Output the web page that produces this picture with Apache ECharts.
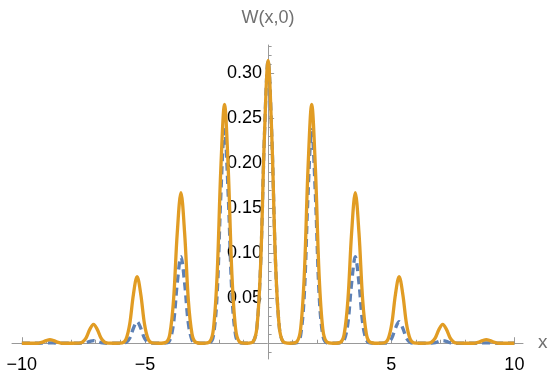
<!DOCTYPE html>
<html lang="en">
<head>
  <meta charset="UTF-8">
  <title>W(x,0)</title>
  <style>
    html, body { margin: 0; padding: 0; background: #fff; }
  </style>
</head>
<body>
<div id="main" style="width:549px; height:372px;"></div>
<script type="text/javascript" src="https://fastly.jsdelivr.net/npm/echarts@6/dist/echarts.min.js"></script>
<script>
  // sample positions along x (denser around each peak)
  var xs = [
    -10, -9.7,
    -9.46, -9.31, -9.16, -9.01, -8.86, -8.71, -8.56, -8.41, -8.26,
    -7.98,
    -7.69, -7.54, -7.39, -7.24, -7.09, -6.94, -6.79, -6.64, -6.49,
    -6.21,
    -5.92, -5.77, -5.62, -5.47, -5.32, -5.17, -5.02, -4.87, -4.72,
    -4.43,
    -4.14, -3.99, -3.84, -3.69, -3.54, -3.39, -3.24, -3.09, -2.94,
    -2.66,
    -2.37, -2.22, -2.07, -1.92, -1.77, -1.62, -1.47, -1.32, -1.17,
    -0.89,
    -0.6, -0.45, -0.3, -0.15, 0, 0.15, 0.3, 0.45, 0.6,
    0.89,
    1.17, 1.32, 1.47, 1.62, 1.77, 1.92, 2.07, 2.22, 2.37,
    2.66,
    2.94, 3.09, 3.24, 3.39, 3.54, 3.69, 3.84, 3.99, 4.14,
    4.43,
    4.72, 4.87, 5.02, 5.17, 5.32, 5.47, 5.62, 5.77, 5.92,
    6.21,
    6.49, 6.64, 6.79, 6.94, 7.09, 7.24, 7.39, 7.54, 7.69,
    7.98,
    8.26, 8.41, 8.56, 8.71, 8.86, 9.01, 9.16, 9.31, 9.46,
    9.7, 10
  ];

  // solid orange curve
  var wSolid = [
    0, 0,
    0, 0.0002, 0.0012, 0.0029, 0.004, 0.0029, 0.0012, 0.0002, 0,
    0,
    0.0001, 0.0013, 0.006, 0.0154, 0.021, 0.0154, 0.006, 0.0013, 0.0001,
    0,
    0.0005, 0.0045, 0.0213, 0.0542, 0.074, 0.0542, 0.0213, 0.0045, 0.0005,
    0,
    0.0011, 0.0101, 0.048, 0.1222, 0.167, 0.1222, 0.048, 0.0101, 0.0011,
    0,
    0.0018, 0.016, 0.0762, 0.194, 0.265, 0.194, 0.0762, 0.016, 0.0018,
    0,
    0.0021, 0.019, 0.0903, 0.2298, 0.314, 0.2298, 0.0903, 0.019, 0.0021,
    0,
    0.0018, 0.016, 0.0762, 0.194, 0.265, 0.194, 0.0762, 0.016, 0.0018,
    0,
    0.0011, 0.0101, 0.048, 0.1222, 0.167, 0.1222, 0.048, 0.0101, 0.0011,
    0,
    0.0005, 0.0045, 0.0213, 0.0542, 0.074, 0.0542, 0.0213, 0.0045, 0.0005,
    0,
    0.0001, 0.0013, 0.006, 0.0154, 0.021, 0.0154, 0.006, 0.0013, 0.0001,
    0,
    0, 0.0002, 0.0012, 0.0029, 0.004, 0.0029, 0.0012, 0.0002, 0,
    0, 0
  ];

  // dashed blue curve (its central peak lies under the orange one)
  var wDashed = [
    0, 0,
    0, 0, 0.0001, 0.0003, 0.0005, 0.0003, 0.0001, 0, 0,
    0,
    0, 0.0001, 0.0007, 0.0021, 0.003, 0.0021, 0.0007, 0.0001, 0,
    0,
    0.0001, 0.0009, 0.0055, 0.0166, 0.024, 0.0166, 0.0055, 0.0009, 0.0001,
    0,
    0.0003, 0.0035, 0.0221, 0.0665, 0.096, 0.0665, 0.0221, 0.0035, 0.0003,
    0,
    0.0007, 0.0087, 0.0545, 0.1642, 0.237, 0.1642, 0.0545, 0.0087, 0.0007,
    0,
    0.0021, 0.019, 0.0903, 0.2298, 0.314, 0.2298, 0.0903, 0.019, 0.0021,
    0,
    0.0007, 0.0087, 0.0545, 0.1642, 0.237, 0.1642, 0.0545, 0.0087, 0.0007,
    0,
    0.0003, 0.0035, 0.0221, 0.0665, 0.096, 0.0665, 0.0221, 0.0035, 0.0003,
    0,
    0.0001, 0.0009, 0.0055, 0.0166, 0.024, 0.0166, 0.0055, 0.0009, 0.0001,
    0,
    0, 0.0001, 0.0007, 0.0021, 0.003, 0.0021, 0.0007, 0.0001, 0,
    0,
    0, 0, 0.0001, 0.0003, 0.0005, 0.0003, 0.0001, 0, 0,
    0, 0
  ];

  var xMajorTicks = [-10, -5, 5, 10];
  var xMinorTicks = [-9, -8, -7, -6, -4, -3, -2, -1, 1, 2, 3, 4, 6, 7, 8, 9];
  var yMajorTicks = [0.05, 0.1, 0.15, 0.2, 0.25, 0.3];
  var yMinorTicks = [-0.01, 0.01, 0.02, 0.03, 0.04, 0.06, 0.07, 0.08, 0.09, 0.11, 0.12, 0.13, 0.14,
                     0.16, 0.17, 0.18, 0.19, 0.21, 0.22, 0.23, 0.24, 0.26, 0.27, 0.28, 0.29, 0.31, 0.32, 0.33];

  function pairs(ys) {
    return xs.map(function (x, i) { return [x, ys[i]]; });
  }

  var axisGray = '#999999';
  var font = 'Liberation Sans, Arial, sans-serif';
  var xRange = { min: -10.4, max: 10.35 };
  var yRange = { min: -0.0175, max: 0.331 };

  // grid box; axes are moved inside it so they cross at (0, 0)
  var gLeft = 12, gRight = 26, gTop = 45, gBottom = 13;
  var plotW = 549 - gLeft - gRight, plotH = 372 - gTop - gBottom;
  var yAxisShift = -plotW * (0 - xRange.min) / (xRange.max - xRange.min);
  var xAxisShift = -plotH * (0 - yRange.min) / (yRange.max - yRange.min);

  var chartDom = document.getElementById('main');
  var myChart = echarts.init(chartDom, null, { renderer: 'canvas' });

  var option = {
    animation: false,
    grid: { left: gLeft, right: gRight, top: gTop, bottom: gBottom, containLabel: false, outerBoundsMode: 'none' },
    xAxis: [
      {
        type: 'value', min: xRange.min, max: xRange.max, position: 'bottom', offset: xAxisShift,
        axisLine: { onZero: false, lineStyle: { color: axisGray, width: 1 } },
        axisTick: { inside: true, length: 6, customValues: xMajorTicks, lineStyle: { color: axisGray } },
        axisLabel: {
          customValues: xMajorTicks, margin: 13, color: '#000', fontSize: 18, fontFamily: font,
          formatter: function (v) { return String(v).replace('-', '\u2212'); }
        },
        splitLine: { show: false },
        name: 'x', nameLocation: 'end', nameGap: 15,
        nameTextStyle: { color: '#707070', fontSize: 19, fontFamily: font, verticalAlign: 'middle' }
      },
      {
        type: 'value', min: xRange.min, max: xRange.max, position: 'bottom', offset: xAxisShift,
        axisLine: { show: false, onZero: false },
        axisTick: { inside: true, length: 3.5, customValues: xMinorTicks, lineStyle: { color: axisGray } },
        axisLabel: { show: false },
        splitLine: { show: false }
      }
    ],
    yAxis: [
      {
        type: 'value', min: yRange.min, max: yRange.max, position: 'left', offset: yAxisShift,
        axisLine: { onZero: false, lineStyle: { color: axisGray, width: 1 } },
        axisTick: { inside: true, length: 6, customValues: yMajorTicks, lineStyle: { color: axisGray } },
        axisLabel: {
          customValues: yMajorTicks, margin: 6, color: '#000', fontSize: 18, fontFamily: font,
          formatter: function (v) { return v.toFixed(2); }
        },
        splitLine: { show: false },
        name: 'W(x,0)', nameLocation: 'end', nameGap: 18,
        nameTextStyle: { color: '#707070', fontSize: 18, fontFamily: font, align: 'center' }
      },
      {
        type: 'value', min: yRange.min, max: yRange.max, position: 'left', offset: yAxisShift,
        axisLine: { show: false, onZero: false },
        axisTick: { inside: true, length: 3.5, customValues: yMinorTicks, lineStyle: { color: axisGray } },
        axisLabel: { show: false },
        splitLine: { show: false }
      }
    ],
    series: [
      {
        name: 'dashed', type: 'line', xAxisIndex: 0, yAxisIndex: 0,
        data: pairs(wDashed), smooth: 0.35, showSymbol: false, symbol: 'none',
        lineStyle: { color: '#5E81B5', width: 3.3, type: [8, 5] },
        z: 3
      },
      {
        name: 'solid', type: 'line', xAxisIndex: 0, yAxisIndex: 0,
        data: pairs(wSolid), smooth: 0.35, showSymbol: false, symbol: 'none',
        lineStyle: { color: '#E19C24', width: 3.3 },
        z: 4
      }
    ]
  };

  myChart.setOption(option);
</script>
</body>
</html>
